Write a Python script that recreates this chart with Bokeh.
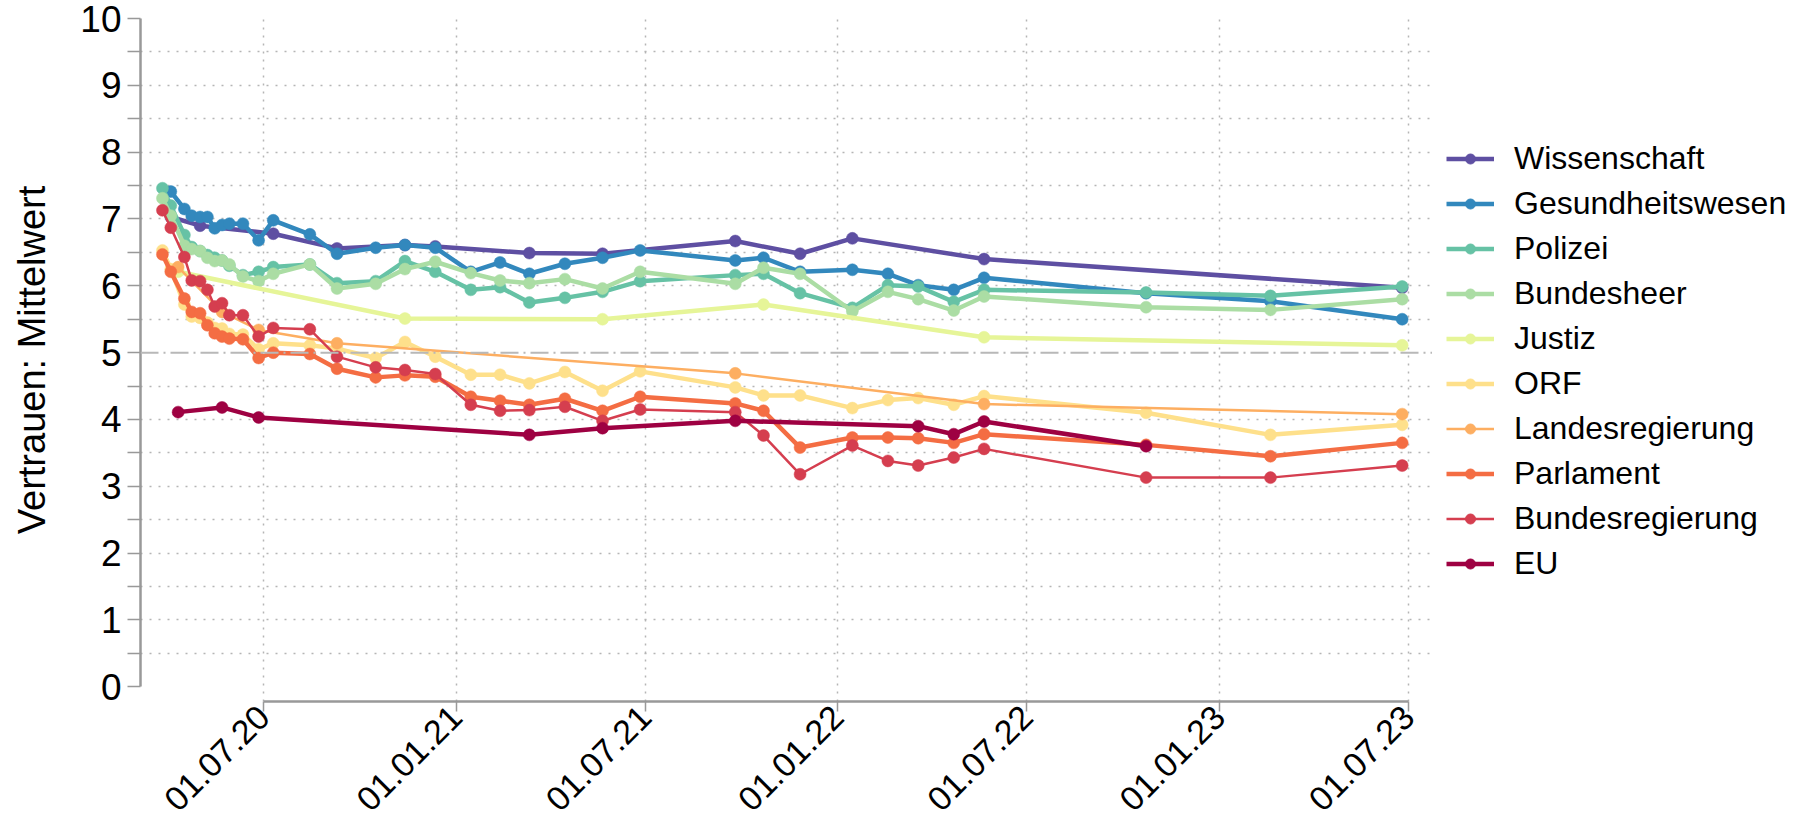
from datetime import datetime
import pandas as pd
from bokeh.plotting import figure
from bokeh.layouts import row
from bokeh.models import (ColumnDataSource, Legend, LegendItem, FixedTicker,
                          Span, Range1d, DatetimeTickFormatter)
from bokeh.embed import file_html
from bokeh.resources import INLINE

N = None

survey_dates = [
    "2020-03-26", "2020-04-03", "2020-04-10", "2020-04-16", "2020-04-23",
    "2020-05-01", "2020-05-08", "2020-05-15", "2020-05-22", "2020-05-29",
    "2020-06-11", "2020-06-26", "2020-07-10", "2020-08-14", "2020-09-09",
    "2020-10-16", "2020-11-13", "2020-12-12", "2021-01-15", "2021-02-12",
    "2021-03-12", "2021-04-15", "2021-05-21", "2021-06-26", "2021-09-25",
    "2021-10-22", "2021-11-26", "2022-01-15", "2022-02-18", "2022-03-19",
    "2022-04-22", "2022-05-21", "2022-10-23", "2023-02-19", "2023-06-25",
]

series_names = ["Wissenschaft", "Gesundheitswesen", "Polizei", "Bundesheer", "Justiz",
                "ORF", "Landesregierung", "Parlament", "Bundesregierung", "EU"]
colors = ["#5e4fa2", "#3288bd", "#66c2a5", "#abdda4", "#e6f598",
          "#fee08b", "#fdae61", "#f46d43", "#d53e4f", "#9e0142"]

wissenschaft = [N, 7.03, N, N, N, 6.90, N, N, N, N, N, N, 6.78, N, 6.56, N, 6.61, 6.59, N, N,
                6.49, N, 6.48, N, 6.67, N, 6.48, 6.71, N, N, N, 6.40, N, N, 5.97]
gesundheitswesen = [N, 7.41, N, 7.15, 7.05, 7.03, 7.03, 6.86, 6.91, 6.93, 6.93, 6.68, 6.98, 6.77,
                    6.48, 6.57, 6.61, 6.57, 6.21, 6.35, 6.18, 6.33, 6.42, 6.53, 6.38, 6.42, 6.21,
                    6.24, 6.18, 6.01, 5.94, 6.12, 5.89, 5.77, 5.50]
polizei = [7.46, 7.20, N, 6.76, 6.58, 6.52, 6.46, 6.42, 6.38, 6.30, 6.16, 6.21, 6.28, 6.32, 6.04,
           6.07, 6.37, 6.21, 5.94, 5.98, 5.75, 5.82, 5.91, 6.07, 6.16, 6.18, 5.89, 5.67, 6.01,
           5.99, 5.76, 5.94, 5.90, 5.85, 5.99]
bundesheer = [7.31, 7.05, N, 6.60, 6.55, 6.52, 6.42, 6.37, 6.38, 6.32, 6.14, 6.07, 6.18, 6.32, 5.96,
              6.03, 6.25, 6.36, 6.19, 6.08, 6.04, 6.10, 5.96, 6.21, 6.03, 6.27, 6.18, 5.62, 5.91,
              5.80, 5.63, 5.84, 5.68, 5.64, 5.80]
justiz = [N, N, 6.21, N, N, N, N, N, N, N, N, N, N, N, N, N, 5.51, N, N, N, N, N, 5.50, N, N,
          5.72, N, N, N, N, N, 5.23, N, N, 5.11]
orf = [6.53, 6.25, N, 5.72, 5.54, 5.52, 5.45, 5.37, 5.36, 5.28, 5.27, 5.05, 5.14, 5.11, 5.06, 4.92,
       5.16, 4.94, 4.67, 4.67, 4.54, 4.71, 4.43, 4.72, 4.48, 4.36, 4.36, 4.17, 4.29, 4.32, 4.22,
       4.35, 4.10, 3.77, 3.92]
landesregierung = [N, N, 6.28, N, N, N, N, N, 5.61, N, N, 5.34, N, N, 5.14, N, N, N, N, N, N, N,
                   N, N, 4.69, N, N, N, N, N, N, 4.23, N, N, 4.08]
parlament = [6.47, 6.21, N, 5.81, 5.61, 5.59, 5.41, 5.29, 5.24, 5.21, 5.20, 4.92, 5.00, 4.98, 4.76,
             4.63, 4.66, 4.64, 4.34, 4.28, 4.22, 4.31, 4.13, 4.34, 4.24, 4.13, 3.58, 3.73, 3.73,
             3.72, 3.65, 3.78, 3.62, 3.45, 3.65]
bundesregierung = [7.13, 6.87, N, 6.43, 6.08, 6.07, 5.94, 5.69, 5.74, 5.56, 5.56, 5.24, 5.37, 5.35,
                   4.94, 4.78, 4.74, 4.68, 4.22, 4.13, 4.14, 4.19, 3.98, 4.15, 4.11, 3.76, 3.18,
                   3.61, 3.38, 3.31, 3.43, 3.56, 3.13, 3.13, 3.31]
eu = [N, N, 4.11, N, N, N, N, N, 4.18, N, N, 4.03, N, N, N, N, N, N, N, N, 3.77, N, 3.87, N, 3.98,
      N, N, N, N, 3.90, 3.78, 3.97, 3.60, N, N]

x_tick_dates = ["2020-07-01", "2021-01-01", "2021-07-01", "2022-01-01",
                "2022-07-01", "2023-01-01", "2023-07-01"]
y_ticks = [0, 1, 2, 3, 4, 5, 6, 7, 8, 9, 10]

series_values = [wissenschaft, gesundheitswesen, polizei, bundesheer, justiz,
                 orf, landesregierung, parlament, bundesregierung, eu]
line_widths = [4.5, 4.5, 4.5, 4.5, 4.5, 4.5, 2.5, 4.5, 2.5, 4.5]

FONT = "Liberation Sans"
dates = pd.to_datetime(survey_dates)
x_start, x_end = datetime(2020, 3, 5), datetime(2023, 7, 24)

p = figure(width=1432, height=824, x_axis_type="datetime",
           x_range=Range1d(x_start, x_end),
           y_range=Range1d(-0.22, 10),
           output_backend="svg", toolbar_location=None,
           min_border_left=140, min_border_top=18, min_border_right=0)
p.outline_line_color = None
p.background_fill_color = "white"

# grid
half_ticks = [v / 2 for v in range(1, 20) if v != 10]
p.ygrid.ticker = FixedTicker(ticks=half_ticks)
p.ygrid.grid_line_color = "#b5b5b5"
p.ygrid.grid_line_dash = "2 7"
p.ygrid.grid_line_width = 1.5
xt = [pd.Timestamp(d).value / 1e6 for d in x_tick_dates]
p.xgrid.ticker = FixedTicker(ticks=xt)
p.xgrid.grid_line_color = "#b5b5b5"
p.xgrid.grid_line_dash = "2 6"
p.xgrid.grid_line_width = 1.5

p.add_layout(Span(location=5, dimension="width", line_color="#b8b8b8",
                  line_dash="18 5 2 5", line_width=2))

sources = []
for name, vals, col, lw in zip(series_names, series_values, colors, line_widths):
    df = pd.DataFrame({"x": dates, "y": vals}).dropna()
    src = ColumnDataSource(df)
    sources.append(src)
    p.line("x", "y", source=src, line_color=col, line_width=lw)
    p.scatter("x", "y", source=src, size=12, fill_color=col, line_color=col, line_width=0.5)

# axes
yax = p.yaxis[0]
yax.ticker = FixedTicker(ticks=y_ticks, minor_ticks=[v + 0.5 for v in range(10)])
yax.bounds = (0, 10)
yax.axis_label = "Vertrauen: Mittelwert"
yax.axis_label_text_font = FONT
yax.axis_label_text_font_size = "38px"
yax.axis_label_text_font_style = "normal"
yax.axis_label_text_color = "black"
yax.axis_label_standoff = 24
yax.major_label_text_font = FONT
yax.major_label_text_font_size = "37px"
yax.major_label_text_color = "black"
yax.major_label_standoff = 6
yax.major_tick_out = 13
yax.major_tick_in = 0
yax.minor_tick_out = 13
yax.minor_tick_in = 0
yax.axis_line_color = "#999999"
yax.axis_line_width = 2.5
yax.major_tick_line_color = "#999999"
yax.minor_tick_line_color = "#999999"
yax.major_tick_line_width = 1.5
yax.minor_tick_line_width = 1.5

xax = p.xaxis[0]
xax.ticker = FixedTicker(ticks=xt)
xax.formatter = DatetimeTickFormatter(days="%d.%m.%y", months="%d.%m.%y", years="%d.%m.%y")
xax.bounds = (datetime(2020, 7, 1), datetime(2023, 7, 1))
xax.major_label_orientation = 0.785398
xax.major_label_text_font = FONT
xax.major_label_text_font_size = "34px"
xax.major_label_text_color = "black"
xax.major_label_standoff = 0
xax.major_tick_out = 10
xax.major_tick_in = 0
xax.minor_tick_line_color = None
xax.axis_line_color = "#999999"
xax.axis_line_width = 2.5
xax.major_tick_line_color = "#999999"
xax.major_tick_line_width = 1.5

# legend panel: a figure to the right whose ranges keep the (shared) data out of view
lf = figure(width=365, height=824, output_backend="svg", toolbar_location=None,
            x_axis_type="datetime", x_range=Range1d(x_start, x_end),
            y_range=Range1d(100, 101),
            x_axis_location=None, y_axis_location=None, min_border=0)
lf.outline_line_color = None
lf.grid.visible = False
items = []
for name, src, col, lw in zip(series_names, sources, colors, line_widths):
    r1 = lf.line("x", "y", source=src, line_color=col, line_width=lw)
    r2 = lf.scatter("x", "y", source=src, size=12, fill_color=col, line_color=col)
    items.append(LegendItem(label=name, renderers=[r1, r2]))

legend = Legend(items=items, location=(14, 119), orientation="vertical")
legend.label_text_font = FONT
legend.label_text_font_size = "32px"
legend.label_text_color = "black"
legend.glyph_width = 48
legend.glyph_height = 25
legend.label_standoff = 20
legend.spacing = 8
legend.padding = 5
legend.margin = 0
legend.border_line_color = None
legend.background_fill_alpha = 0
lf.add_layout(legend)

layout = row(p, lf)
open("out.html", "w").write(file_html(layout, INLINE))
